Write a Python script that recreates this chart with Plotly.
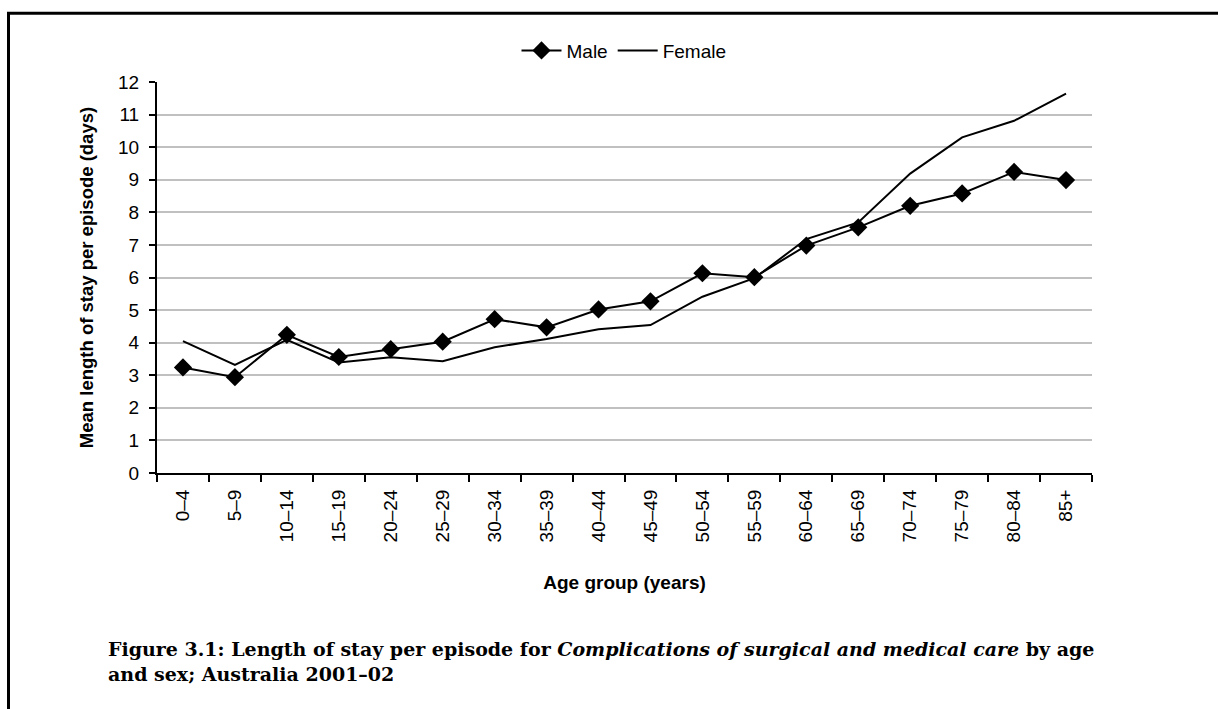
import plotly.graph_objects as go

# Age groups and mean length of stay per episode (days)
age_groups = ["0–4", "5–9", "10–14", "15–19", "20–24", "25–29", "30–34", "35–39",
              "40–44", "45–49", "50–54", "55–59", "60–64", "65–69", "70–74", "75–79",
              "80–84", "85+"]
male = [3.24, 2.94, 4.24, 3.56, 3.80, 4.03, 4.72, 4.47, 5.02, 5.27,
        6.13, 6.01, 6.98, 7.54, 8.20, 8.58, 9.24, 8.99]
female = [4.05, 3.32, 4.09, 3.39, 3.55, 3.43, 3.86, 4.11, 4.41, 4.54,
          5.41, 5.98, 7.18, 7.69, 9.19, 10.30, 10.81, 11.64]
y_ticks = list(range(0, 13))

W, H = 1218, 709
L, R, T, B = 157, 1092, 81.5, 473.5


def px_x(x):
    return (x - L) / (R - L)


def px_y(y):
    return (B - y) / (B - T)


SANS = "Liberation Sans, Arial, sans-serif"

fig = go.Figure()
fig.add_trace(go.Scatter(
    x=age_groups, y=male, name="Male", mode="lines+markers",
    line=dict(color="black", width=2),
    marker=dict(symbol="diamond", size=14, color="black"),
))
fig.add_trace(go.Scatter(
    x=age_groups, y=female, name="Female", mode="lines",
    line=dict(color="black", width=2),
))

axis_font = dict(family=SANS, size=19, color="black")

fig.update_layout(
    width=W, height=H,
    margin=dict(l=L, r=W - R, t=T, b=H - B, pad=0),
    paper_bgcolor="white", plot_bgcolor="white",
    font=axis_font,
    showlegend=True,
    legend=dict(orientation="h", x=px_x(624), xanchor="center", y=px_y(50), yanchor="middle",
                font=dict(family=SANS, size=19, color="black"),
                itemwidth=40, tracegroupgap=0, bgcolor="rgba(0,0,0,0)"),
    xaxis=dict(
        type="category", categoryorder="array", categoryarray=age_groups,
        showline=True, linecolor="black", linewidth=2,
        ticks="outside", ticklen=7, tickwidth=1.5, tickcolor="black",
        tickson="boundaries", tickangle=-90, showgrid=False,
        ticklabelstandoff=7,
        tickfont=axis_font, range=[-0.5, len(age_groups) - 0.5],
        title=dict(text="<b>Age group (years)</b>", standoff=34,
                   font=dict(family=SANS, size=19)),
        zeroline=False,
    ),
    yaxis=dict(
        range=[0, 12], tickvals=y_ticks,
        showline=True, linecolor="black", linewidth=2,
        ticks="outside", ticklen=6, tickwidth=1.5, tickcolor="black",
        ticklabelstandoff=6,
        showgrid=True, gridcolor="#c0c0c0", gridwidth=1.5,
        tickfont=axis_font, zeroline=False,
        title=dict(text="<b>Mean length of stay per episode (days)</b>", standoff=20,
                   font=dict(family=SANS, size=18.5)),
    ),
)

# Frame around the figure (left and top edges)
fig.add_shape(type="line", xref="paper", yref="paper",
              x0=px_x(8.5), x1=px_x(8.5), y0=px_y(12), y1=px_y(715),
              line=dict(color="black", width=3))
fig.add_shape(type="line", xref="paper", yref="paper",
              x0=px_x(7), x1=px_x(1225), y0=px_y(12.5), y1=px_y(12.5),
              line=dict(color="black", width=3))

# Figure caption
fig.add_annotation(
    xref="paper", yref="paper", x=px_x(106), y=px_y(662), xanchor="left", yanchor="middle",
    align="left", showarrow=False,
    text="<b>Figure 3.1: Length of stay per episode for <i>Complications of surgical and medical care</i> by age<br>and sex; Australia 2001–02</b>",
    font=dict(family="DejaVu Serif, serif", size=19, color="black"),
)

fig.write_html("out.html")
